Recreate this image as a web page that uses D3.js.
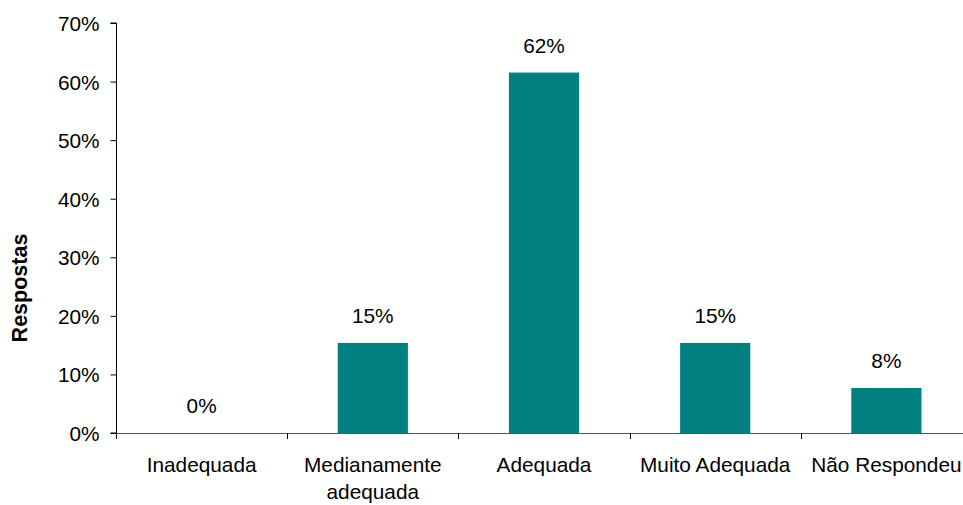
<!DOCTYPE html>
<html><head><meta charset="utf-8">
<script src="https://cdn.jsdelivr.net/npm/d3@7"></script>
<style>body{margin:0;background:#fff}svg{display:block}text{font-family:"Liberation Sans",Arial,sans-serif}</style>
</head><body>
<svg id="c" width="963" height="505"></svg>
<script>
const categories = [["Inadequada"], ["Medianamente", "adequada"], ["Adequada"], ["Muito Adequada"], ["Não Respondeu"]];
const values = [0, 15.38, 61.54, 15.38, 7.69];
const valueLabels = ["0%", "15%", "62%", "15%", "8%"];
const yTicks = [0, 10, 20, 30, 40, 50, 60, 70];
const yTitle = "Respostas";

const svg = d3.select("#c");
const x0 = 116, x1 = 972, yTop = 23, yBot = 433;
const x = d3.scaleBand().domain(d3.range(categories.length)).range([x0, x1]).paddingInner(0.59).paddingOuter(0.295);
const y = d3.scaleLinear().domain([0, 70]).range([yBot, yTop]);
const FS = 20.8;

// y axis
const yAxis = svg.append("g").attr("transform", `translate(${x0 + 0.5},0)`)
  .call(d3.axisLeft(y).tickValues(yTicks).tickFormat(d => d + "%").tickSize(6).tickPadding(11));
yAxis.select(".domain").attr("stroke", "#000").attr("d", `M-6,${yTop}H0V${yBot}H-6`);
yAxis.selectAll(".tick line").attr("stroke", "#000");
yAxis.selectAll(".tick text").attr("font-size", FS).attr("fill", "#000").attr("dy", "0.36em")
  .attr("font-family", "Liberation Sans, Arial, sans-serif");

// bars
svg.selectAll("rect.bar").data(values).enter().append("rect")
  .attr("x", (d, i) => x(i)).attr("width", x.bandwidth())
  .attr("y", d => y(d)).attr("height", d => yBot - y(d))
  .attr("fill", "#008080");

// x axis
const step = x.step();
svg.append("line").attr("x1", x0).attr("x2", x1).attr("y1", yBot + 0.5).attr("y2", yBot + 0.5).attr("stroke", "#555");
d3.range(categories.length + 1).forEach(i => {
  const tx = Math.round(x0 + i * step) + 0.5;
  svg.append("line").attr("x1", tx).attr("x2", tx).attr("y1", yBot).attr("y2", yBot + 6).attr("stroke", "#000");
});

// value labels
svg.selectAll("text.val").data(values).enter().append("text")
  .attr("x", (d, i) => x(i) + x.bandwidth() / 2)
  .attr("y", d => y(d) - 20)
  .attr("text-anchor", "middle").attr("font-size", FS).attr("fill", "#000")
  .text((d, i) => valueLabels[i]);

// category labels
categories.forEach((lines, i) => {
  const t = svg.append("text").attr("text-anchor", "middle").attr("font-size", FS).attr("fill", "#000");
  lines.forEach((l, j) => {
    t.append("tspan").attr("x", x(i) + x.bandwidth() / 2).attr("y", 472 + j * 27).text(l);
  });
});

// y title
svg.append("text").attr("transform", "translate(27,288) rotate(-90)")
  .attr("text-anchor", "middle").attr("font-size", 21.5).attr("font-weight", "bold").attr("fill", "#000")
  .text(yTitle);
</script>
</body></html>
